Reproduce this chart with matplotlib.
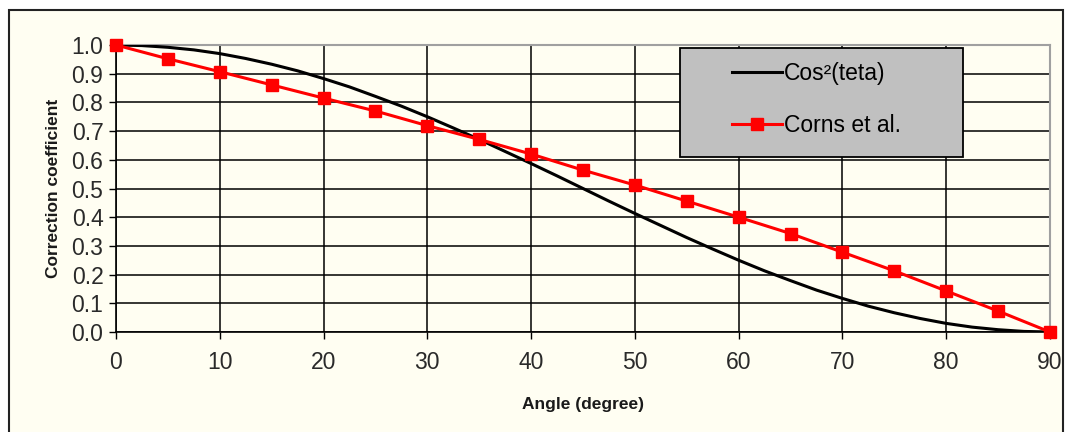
import matplotlib.pyplot as plt
from matplotlib.patches import Rectangle

# cos^2 curve every 2.5 degrees
cos_angle = [0, 2.5, 5, 7.5, 10, 12.5, 15, 17.5, 20, 22.5, 25, 27.5, 30, 32.5, 35, 37.5,
             40, 42.5, 45, 47.5, 50, 52.5, 55, 57.5, 60, 62.5, 65, 67.5, 70, 72.5, 75,
             77.5, 80, 82.5, 85, 87.5, 90]
cos_values = [1.0, 0.998, 0.992, 0.983, 0.970, 0.953, 0.933, 0.910, 0.883, 0.854, 0.821,
              0.787, 0.750, 0.711, 0.671, 0.629, 0.587, 0.544, 0.500, 0.456, 0.413, 0.371,
              0.329, 0.289, 0.250, 0.213, 0.179, 0.146, 0.117, 0.090, 0.067, 0.047, 0.030,
              0.017, 0.008, 0.002, 0.0]

# Corns et al. points
corns_angle = [0, 5, 10, 15, 20, 25, 30, 35, 40, 45, 50, 55, 60, 65, 70, 75, 80, 85, 90]
corns_values = [1.0, 0.952, 0.907, 0.861, 0.815, 0.770, 0.719, 0.671, 0.620, 0.564, 0.512,
                0.456, 0.400, 0.343, 0.278, 0.213, 0.143, 0.073, 0.0]

x_ticks = [0, 10, 20, 30, 40, 50, 60, 70, 80, 90]
y_ticks = [0.0, 0.1, 0.2, 0.3, 0.4, 0.5, 0.6, 0.7, 0.8, 0.9, 1.0]

plt.rcParams['font.family'] = ['Liberation Sans', 'DejaVu Sans']
cream = '#FFFEF2'

fig = plt.figure(figsize=(10.68, 4.32), dpi=100, facecolor='white')
# outer chart border
fig.patches.append(Rectangle((9 / 1068, -0.05), 1054 / 1068, 1 - 10 / 432 + 0.05,
                             transform=fig.transFigure, facecolor=cream,
                             edgecolor='#222222', linewidth=1.5, zorder=-10))

ax = fig.add_axes([116 / 1068, 1 - 332 / 432, 934 / 1068, 287 / 432])
ax.set_zorder(1)
ax.set_facecolor(cream)

ax.plot(cos_angle, cos_values, color='black', linewidth=2.2, label='Cos²(teta)', zorder=3)
ax.plot(corns_angle, corns_values, color='#FF0000', linewidth=2.2, marker='s',
        markersize=9, label='Corns et al.', zorder=3, clip_on=False)

ax.set_xlim(0, 90)
ax.set_ylim(0, 1.0)
ax.set_xticks(x_ticks)
ax.set_yticks(y_ticks)
ax.set_yticklabels([f"{v:.1f}" for v in y_ticks])
ax.tick_params(direction='out', length=5, width=1, color='black',
               labelsize=16.5, labelcolor='#2a2a2a')
ax.tick_params(axis='x', pad=9)
ax.tick_params(axis='y', pad=4)
ax.set_axisbelow(True)
ax.grid(True, color='black', linewidth=1.1)

for side in ['left', 'bottom']:
    ax.spines[side].set_color('black')
    ax.spines[side].set_linewidth(1.2)
for side in ['top', 'right']:
    ax.spines[side].set_color('#A0A0A0')
    ax.spines[side].set_linewidth(1.5)

ax.set_xlabel('Angle (degree)', fontsize=12.5, fontweight='bold', labelpad=16,
              color='#1a1a1a')
ax.set_ylabel('Correction coefficient', fontsize=12.5, fontweight='bold', labelpad=8,
              color='#1a1a1a')

# legend box
ax.add_patch(Rectangle((0.604, 0.61), 0.303, 0.38, transform=ax.transAxes,
                       facecolor='#C0C0C0', edgecolor='black', linewidth=1.3,
                       zorder=4, clip_on=False))
leg = ax.legend(loc='center', bbox_to_anchor=(0.75, 0.81), frameon=False,
                fontsize=16.5, handlelength=2.2, handletextpad=0.1, labelspacing=1.3)
leg.set_zorder(5)

plt.savefig('out.png', dpi=100, facecolor=fig.get_facecolor())
